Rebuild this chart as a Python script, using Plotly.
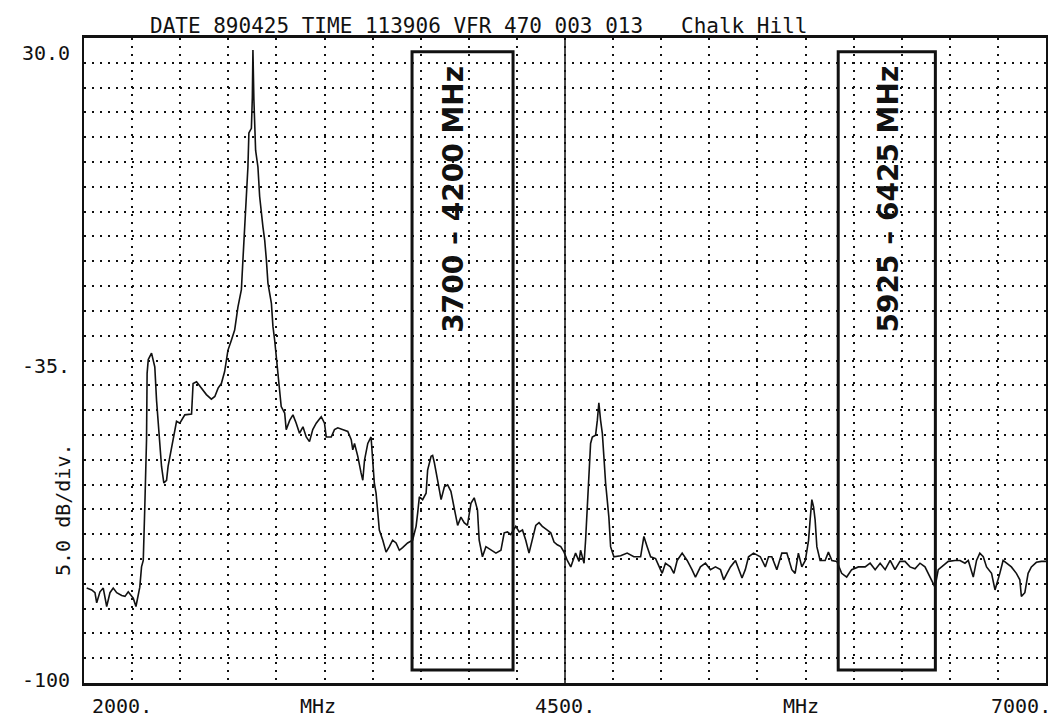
import plotly.graph_objects as go

MONO = "DejaVu Sans Mono"
INK = "#111111"

# spectrum analyser sweep (MHz, dBm)
FREQ_MHZ = [
    2014, 2040, 2057, 2066, 2083, 2100, 2118, 2135, 2152, 2170, 2196, 2213, 2230, 2247, 2256, 2270,
    2282, 2290, 2299, 2308, 2316, 2325, 2328, 2334, 2351, 2368, 2377, 2394, 2403, 2415, 2429, 2437,
    2455, 2472, 2481, 2498, 2507, 2524, 2559, 2567, 2585, 2602, 2619, 2636, 2662, 2680, 2697, 2714,
    2731, 2740, 2748, 2766, 2783, 2800, 2818, 2826, 2835, 2844, 2852, 2857, 2870, 2875, 2878, 2883,
    2887, 2892, 2904, 2913, 2930, 2939, 2948, 2956, 2974, 2982, 2991, 3000, 3008, 3017, 3025, 3043,
    3051, 3069, 3086, 3103, 3120, 3138, 3155, 3172, 3189, 3207, 3233, 3250, 3259, 3285, 3302, 3319,
    3345, 3371, 3389, 3397, 3406, 3423, 3440, 3449, 3458, 3475, 3492, 3501, 3509, 3518, 3527, 3535,
    3553, 3570, 3587, 3604, 3622, 3639, 3656, 3682, 3708, 3726, 3734, 3743, 3760, 3778, 3786, 3804,
    3812, 3821, 3838, 3856, 3873, 3890, 3907, 3924, 3942, 3959, 3976, 3993, 4011, 4028, 4045, 4054,
    4071, 4089, 4115, 4141, 4167, 4184, 4201, 4218, 4244, 4262, 4279, 4296, 4313, 4330, 4348, 4365,
    4382, 4408, 4426, 4443, 4460, 4478, 4495, 4512, 4530, 4555, 4573, 4581, 4599, 4607, 4616, 4625,
    4633, 4642, 4659, 4668, 4676, 4685, 4694, 4702, 4711, 4728, 4737, 4754, 4789, 4823, 4858, 4893,
    4910, 4927, 4945, 4971, 4988, 5005, 5022, 5048, 5066, 5083, 5109, 5135, 5160, 5178, 5204, 5230,
    5256, 5282, 5308, 5325, 5342, 5360, 5386, 5403, 5420, 5437, 5454, 5480, 5515, 5541, 5558, 5575,
    5601, 5627, 5653, 5679, 5696, 5713, 5731, 5749, 5766, 5774, 5783, 5792, 5800, 5809, 5826, 5852,
    5869, 5887, 5913, 5938, 5964, 5990, 6025, 6060, 6086, 6112, 6138, 6164, 6190, 6215, 6241, 6267,
    6293, 6319, 6345, 6371, 6397, 6423, 6440, 6466, 6492, 6527, 6553, 6579, 6596, 6622, 6639, 6656,
    6674, 6691, 6717, 6735, 6752, 6760, 6777, 6794, 6820, 6846, 6864, 6872, 6890, 6907, 6924, 6950,
    6976, 7000,
]
LEVEL_DBM = [
    -89.7, -89.9, -90.2, -91.3, -90.1, -89.7, -91.7, -90.2, -89.7, -90.2, -90.5, -90.6, -90.1, -90.6, -90.8, -91.7,
    -90.2, -89.6, -87.4, -86.7, -80.9, -73.6, -66.4, -64.9, -64.2, -65.7, -69.3, -73.6, -76.5, -78.3, -78.0, -76.5,
    -74.4, -72.2, -71.6, -71.8, -71.5, -70.9, -70.8, -67.5, -67.3, -67.8, -68.2, -68.7, -69.2, -68.9, -68.0, -67.5,
    -66.2, -64.9, -63.9, -62.8, -61.7, -59.2, -57.3, -54.1, -50.5, -47.2, -44.0, -40.3, -39.8, -36.4, -31.3, -36.7,
    -38.5, -42.2, -44.0, -47.2, -50.5, -51.9, -54.1, -56.6, -58.8, -61.3, -62.8, -64.6, -66.4, -68.2, -70.0, -70.7,
    -72.5, -71.5, -70.9, -71.8, -72.9, -72.2, -73.3, -73.8, -72.5, -71.8, -71.1, -71.8, -73.3, -73.3, -72.5, -72.3,
    -72.5, -72.7, -73.6, -74.7, -74.0, -75.4, -77.2, -78.0, -75.8, -74.0, -73.3, -76.5, -78.3, -79.4, -81.6, -83.4,
    -84.5, -85.8, -85.2, -84.5, -84.8, -85.6, -85.3, -84.8, -84.5, -83.0, -81.6, -79.8, -80.1, -79.4, -76.9, -75.4,
    -75.3, -76.1, -78.0, -80.1, -78.7, -78.5, -79.2, -81.2, -82.9, -82.0, -82.6, -82.9, -80.5, -79.9, -81.2, -84.5,
    -86.3, -85.2, -85.6, -85.9, -85.6, -83.7, -83.6, -83.9, -83.0, -83.6, -83.4, -84.5, -85.9, -84.5, -82.9, -82.6,
    -83.0, -83.4, -83.7, -84.7, -85.0, -85.2, -85.8, -86.7, -87.4, -85.9, -86.8, -85.6, -87.0, -84.5, -80.9, -77.2,
    -74.0, -73.3, -73.1, -71.5, -69.6, -71.5, -72.9, -75.4, -78.3, -82.0, -85.2, -86.3, -86.2, -85.9, -86.3, -86.3,
    -84.1, -85.2, -86.3, -86.5, -87.4, -88.1, -87.0, -87.4, -88.1, -86.7, -85.9, -86.7, -87.7, -88.5, -87.4, -87.0,
    -87.7, -87.4, -87.7, -88.8, -88.1, -87.4, -86.7, -87.7, -88.6, -87.7, -86.3, -85.9, -86.3, -87.4, -86.3, -86.3,
    -87.7, -85.9, -85.9, -87.7, -88.1, -85.9, -87.4, -86.7, -84.5, -82.3, -80.1, -80.9, -82.3, -85.2, -86.7, -86.7,
    -85.8, -86.7, -86.8, -88.1, -88.5, -87.7, -87.4, -87.4, -87.0, -87.7, -87.0, -87.7, -86.7, -87.7, -86.8, -86.8,
    -87.4, -87.6, -87.0, -87.4, -88.5, -89.6, -87.7, -87.2, -86.8, -86.7, -86.7, -87.0, -86.7, -88.5, -86.7, -85.9,
    -86.3, -87.4, -88.1, -89.9, -88.8, -88.1, -86.7, -87.0, -87.4, -88.1, -88.8, -90.6, -90.2, -88.1, -87.4, -86.9,
    -86.8, -86.8,
]

# marked satellite bands (boxes as they sit on the sheet)
BAND_LO = [3705, 5920]
BAND_HI = [4230, 6425]
BAND_TOP = -31.5
BAND_BOTTOM = -98.6
BAND_LABELS = ["3700 – 4200 MHz", "5925 – 6425 MHz"]
BAND_LABEL_X = [3920, 6180]
BAND_LABEL_Y = -47.5

X_RANGE = [2000, 7000]
Y_RANGE = [-100, -30]
CENTER_MHZ = 4500

TITLE = "DATE 890425 TIME 113906 VFR 470 003 013   Chalk Hill"
Y_LABELS = ["30.0", "-35.", "-100"]
Y_LABEL_POS = [-31.6, -65.6, -99.7]
X_LABELS = ["2000.", "MHz", "4500.", "MHz", "7000."]
X_LABEL_POS = [0.006, 0.243, 0.5, 0.745, 1.007]
X_LABEL_ANCHOR = ["left", "center", "center", "center", "right"]

fig = go.Figure(
    go.Scatter(
        x=FREQ_MHZ, y=LEVEL_DBM,
        mode="lines",
        line=dict(color=INK, width=1.6),
        hoverinfo="x+y",
    )
)

for lo, hi, lx, label in zip(BAND_LO, BAND_HI, BAND_LABEL_X, BAND_LABELS):
    fig.add_shape(
        type="rect", xref="x", yref="y",
        x0=lo, x1=hi, y0=BAND_BOTTOM, y1=BAND_TOP,
        line=dict(color=INK, width=3),
    )
    fig.add_annotation(
        x=lx, y=BAND_LABEL_Y, xref="x", yref="y",
        xanchor="center", yanchor="middle",
        text=f"<b>{label}</b>", textangle=-90, showarrow=False,
        font=dict(family="DejaVu Sans", size=28, color=INK),
    )

fig.add_shape(
    type="line", xref="x", yref="paper",
    x0=CENTER_MHZ, x1=CENTER_MHZ, y0=0, y1=1,
    line=dict(color=INK, width=1.5),
)

label_font = dict(family=MONO, size=20, color=INK)

fig.add_annotation(
    x=0.41, y=1.019, xref="paper", yref="paper",
    xanchor="center", yanchor="middle",
    text=TITLE, showarrow=False, font=dict(family=MONO, size=21, color=INK),
)
for txt, yv in zip(Y_LABELS, Y_LABEL_POS):
    fig.add_annotation(
        x=-0.012, y=yv, xref="paper", yref="y",
        xanchor="right", yanchor="middle",
        text=txt, showarrow=False, font=label_font,
    )
fig.add_annotation(
    x=-0.022, y=0.268, xref="paper", yref="paper",
    xanchor="center", yanchor="middle",
    text="5.0 dB/div.", textangle=-90, showarrow=False, font=label_font,
)
for txt, xp, anc in zip(X_LABELS, X_LABEL_POS, X_LABEL_ANCHOR):
    fig.add_annotation(
        x=xp, y=-0.036, xref="paper", yref="paper",
        xanchor=anc, yanchor="middle",
        text=txt, showarrow=False, font=label_font,
    )

grid = dict(showgrid=True, gridcolor=INK, gridwidth=1.6, griddash="2px,6px",
            zeroline=False, showticklabels=False, ticks="",
            showline=True, linecolor=INK, mirror=True)

# page body keeps its 8px margin, so the figure is sized to fit inside it
fig.update_layout(
    width=1051, height=709,
    margin=dict(l=76, r=11, t=30, b=34),
    paper_bgcolor="white",
    plot_bgcolor="white",
    showlegend=False,
    xaxis=dict(range=X_RANGE, tick0=2000, dtick=250, linewidth=3, **grid),
    yaxis=dict(range=Y_RANGE, tick0=-100, dtick=70 / 26, linewidth=2, **grid),
)

fig.write_html("out.html")
